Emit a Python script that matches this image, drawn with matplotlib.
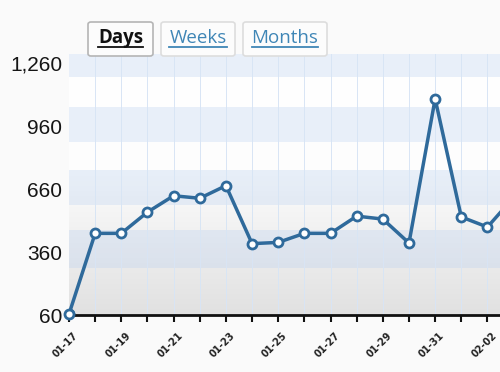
import numpy as np
import matplotlib
matplotlib.use('Agg')
from matplotlib import pyplot as plt
from matplotlib.patches import FancyBboxPatch
from matplotlib.lines import Line2D
from matplotlib.colors import LinearSegmentedColormap
from matplotlib.transforms import ScaledTranslation

# daily values (last day is cut off at the right edge)
dates = ['01-17', '01-18', '01-19', '01-20', '01-21', '01-22', '01-23', '01-24', '01-25',
         '01-26', '01-27', '01-28', '01-29', '01-30', '01-31', '02-01', '02-02', '02-03']
values = [65, 449, 449, 550, 628, 616, 676, 400, 406,
          449, 449, 531, 517, 403, 1089, 527, 479, 620]
y_ticks = [60, 360, 660, 960, 1260]
tabs = ['Days', 'Weeks', 'Months']

LINE = '#2f6a9b'

fig = plt.figure(figsize=(5, 3.72), dpi=100, facecolor='#fafafa')
ax = fig.add_axes([0.138, 0.153, 0.862, 0.702])

x = np.arange(len(dates))
ax.set_xlim(0, 16.48)
ax.set_ylim(60, 1303)

# background: white fading to grey, with pale blue stripes
cmap = LinearSegmentedColormap.from_list('bg', [(0, '#e1e1e1'), (0.55, '#fdfdfd'), (1, '#ffffff')])
grad = np.linspace(0, 1, 256).reshape(-1, 1)
ax.imshow(grad, extent=[0, 1, 0, 1], transform=ax.transAxes, origin='lower',
          cmap=cmap, aspect='auto', zorder=0)
for lo, hi in [(284, 465), (584, 750), (884, 1050), (1193, 1303)]:
    ax.axhspan(lo, hi, color='#b8cff0', alpha=0.3, lw=0, zorder=0.5)

for xi in x[1:]:
    ax.axvline(xi, color='#d8e5f5', lw=0.7, zorder=0.8)

ax.plot(x, values, color=LINE, lw=2.5, marker='o', ms=6.5, mfc='white', mec=LINE,
        mew=2, zorder=3, clip_on=True)
ax.plot(x[:1], values[:1], color=LINE, marker='o', ms=6.5, mfc='white', mec=LINE,
        mew=2, zorder=4, clip_on=False)

for s in ['top', 'right', 'left']:
    ax.spines[s].set_visible(False)
ax.spines['bottom'].set_linewidth(2)
ax.spines['bottom'].set_color('#111111')
ax.spines['bottom'].set_zorder(3.5)

ax.set_yticks(y_ticks)
ax.set_yticklabels(['{:,}'.format(v) for v in y_ticks], fontsize=15,
                   family='Liberation Sans', color='#151515')
ax.tick_params(axis='y', length=0, pad=5)

ax.set_xticks(x[:17])
ax.set_xticklabels([d if i % 2 == 0 else '' for i, d in enumerate(dates[:17])],
                   rotation=45, ha='right', rotation_mode='anchor', fontsize=7,
                   fontweight='bold', color='#222222')
ax.tick_params(axis='x', length=5, width=1.5, color='#111111', pad=6)
shift = ScaledTranslation(4 / 100, 0, fig.dpi_scale_trans)
for lab in ax.get_xticklabels():
    lab.set_transform(lab.get_transform() + shift)

# tabs above the plot
tab_boxes = [(88, 153), (161, 235), (243, 327)]
W, H = 500.0, 372.0
for i, (name, (l, r)) in enumerate(zip(tabs, tab_boxes)):
    edge = '#b5b5b5' if i == 0 else '#dddddd'
    box = FancyBboxPatch((l / W, 1 - 56 / H), (r - l) / W, 34 / H,
                         boxstyle='round,pad=0,rounding_size=0.006',
                         transform=fig.transFigure, fc='#fcfcfc', ec=edge, lw=1.2,
                         zorder=0)
    fig.patches.append(box)
    cx = (l + r) / 2 / W
    if i == 0:
        t = fig.text(cx, 1 - 38 / H, name, ha='center', va='center', fontsize=13.5,
                     fontweight='bold', family='Open Sans', color='#111111')
        col = '#111111'
    else:
        t = fig.text(cx, 1 - 38 / H, name, ha='center', va='center', fontsize=13.5,
                     family='Open Sans', color='#3f86b6')
        col = '#3f86b6'
    fig.canvas.draw()
    bb = t.get_window_extent()
    uy = 1 - 47 / H
    fig.lines.append(Line2D([bb.x0 / W, bb.x1 / W], [uy, uy], transform=fig.transFigure,
                            color=col, lw=1.3))

fig.savefig('out.png', dpi=100, facecolor=fig.get_facecolor())
